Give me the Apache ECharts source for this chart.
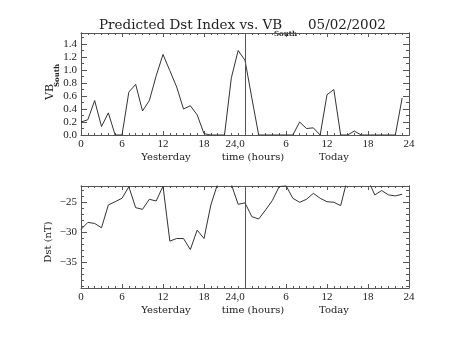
<!DOCTYPE html>
<html>
<head>
<meta charset="utf-8">
<script src="https://cdn.jsdelivr.net/npm/echarts@6/dist/echarts.min.js"></script>
<style>html,body{margin:0;padding:0;background:#fff}#c{width:453px;height:340px}</style>
</head>
<body>
<div id="c"></div>
<script>
// ---- data (hour index 0..47: yesterday 0-23, today 0-23) ----
const hours = Array.from({length: 48}, (_, i) => i);
const vbSouth = [0.20,0.235,0.53,0.13,0.34,0,0,0.66,0.78,0.37,0.53,0.91,1.24,0.99,0.74,0.40,0.45,0.31,0.02,0,0,0,0.88,1.30,
                 1.15,0.57,0,0,0,0,0,0,0.20,0.10,0.11,0,0.62,0.70,0,0,0.06,0,0,0,0,0,0,0.57];
const dst = [-29.55,-28.37,-28.54,-29.27,-25.45,-24.9,-24.33,-22.4,-25.9,-26.18,-24.5,-24.78,-22.3,-31.5,-31.07,-31.07,-32.92,-29.66,-31.07,-25.45,-21.9,-21.0,-22.0,-25.34,
             -25.1,-27.4,-27.8,-26.3,-24.7,-22.36,-22.2,-24.33,-25.0,-24.5,-23.5,-24.33,-24.9,-25.0,-25.56,-21.0,-20.0,-20.5,-21.3,-23.76,-23.03,-23.76,-23.93,-23.65];
const hourTicks = [0,6,12,18,24,30,36,42,48];
const hourTickLabels = ['0','6','12','18','24,0','6','12','18','24'];
const dayLabels = ['Yesterday','time (hours)','Today'];
const vbTicks = [0,0.2,0.4,0.6,0.8,1.0,1.2,1.4];
const vbMinorTicks = [0.1,0.3,0.5,0.7,0.9,1.1,1.3,1.5];
const dstTicks = [-35,-30,-25];
const dstMinorTicks = [-39,-38,-37,-36,-34,-33,-32,-31,-29,-28,-27,-26,-24,-23];
const titleMain = 'Predicted Dst Index vs. VB';
const titleSub = 'South';
const titleDate = '05/02/2002';
const boundary = 24;

const AX = '#555', TXT = '#222', LN = '#333';
const numFont = 'Liberation Serif';

function mkX(g, pos, labels) {
  return {
    type: 'value', gridIndex: g, position: pos, min: 0, max: 48, interval: 6,
    axisLine: {show: true, onZero: false, lineStyle: {color: AX, width: 1}},
    axisTick: {show: true, inside: true, length: 4, lineStyle: {color: AX}},
    minorTick: {show: true, splitNumber: 6, length: 2, lineStyle: {color: AX}},
    splitLine: {show: false}, minorSplitLine: {show: false},
    axisLabel: {
      show: labels, margin: 4, fontFamily: numFont, fontSize: 11, color: TXT,
      formatter: v => {
        const i = hourTicks.indexOf(v);
        if (i < 0) return '';
        return v === boundary ? '{r|' + hourTickLabels[i] + '}' : hourTickLabels[i];
      },
      rich: {r: {fontFamily: numFont, fontSize: 11, color: TXT, padding: [0, 20, 0, 0]}}
    }
  };
}
function mkY(g, pos, ticks, len, labels, min, max, fmt, pad) {
  return {
    type: 'value', gridIndex: g, position: pos, min: min, max: max,
    axisLine: {show: true, onZero: false, lineStyle: {color: AX, width: 1}},
    axisTick: {show: true, inside: true, length: len, customValues: ticks, lineStyle: {color: AX}},
    splitLine: {show: false},
    axisLabel: {show: labels, customValues: ticks, margin: 4, fontFamily: numFont, fontSize: 11,
      color: TXT, formatter: fmt, padding: pad}
  };
}
const fmtVB = v => v.toFixed(1);
const fmtDst = v => (v < 0 ? '\u2212' : '') + Math.abs(v);
const vbMax = 1.57, dstMin = -39.36, dstMax = -22.27;

const vLine = {
  silent: true, symbol: ['none', 'none'], label: {show: false},
  lineStyle: {color: AX, type: 'solid', width: 1},
  data: [{xAxis: boundary}]
};

const txt = (text, x, y, font, extra) => Object.assign({
  type: 'text', x: x, y: y, silent: true,
  style: {text: text, font: font, fill: TXT, align: 'center', verticalAlign: 'middle'}
}, extra || {});
const ltxt = (text, x, y, font) => ({
  type: 'text', x: x, y: y, silent: true,
  style: {text: text, font: font, fill: TXT, align: 'left', verticalAlign: 'middle'}
});

const labelFont = '10px "DejaVu Serif"';
const titleFont = '13.5px "DejaVu Serif"';
const dayX = [166, 253, 334];

const chart = echarts.init(document.getElementById('c'), null, {renderer: 'canvas'});
chart.setOption({
  animation: false,
  backgroundColor: '#fff',
  grid: [
    {left: 81, top: 33, width: 328, height: 102},
    {left: 81, top: 186, width: 328, height: 102}
  ],
  xAxis: [mkX(0, 'bottom', true), mkX(0, 'top', false), mkX(1, 'bottom', true), mkX(1, 'top', false)],
  yAxis: [
    mkY(0, 'left', vbTicks, 6, true, 0, vbMax, fmtVB, [0, 0, 6, 0]),
    mkY(0, 'left', vbMinorTicks, 3, false, 0, vbMax, fmtVB),
    mkY(0, 'right', vbTicks, 6, false, 0, vbMax, fmtVB),
    mkY(0, 'right', vbMinorTicks, 3, false, 0, vbMax, fmtVB),
    mkY(1, 'left', dstTicks, 6, true, dstMin, dstMax, fmtDst),
    mkY(1, 'left', dstMinorTicks, 3, false, dstMin, dstMax, fmtDst),
    mkY(1, 'right', dstTicks, 6, false, dstMin, dstMax, fmtDst),
    mkY(1, 'right', dstMinorTicks, 3, false, dstMin, dstMax, fmtDst)
  ],
  series: [
    {type: 'line', xAxisIndex: 0, yAxisIndex: 0, data: hours.map((h, i) => [h, vbSouth[i]]),
     showSymbol: false, symbol: 'none', clip: true, lineStyle: {color: LN, width: 1}, markLine: vLine},
    {type: 'line', xAxisIndex: 2, yAxisIndex: 4, data: hours.map((h, i) => [h, dst[i]]),
     showSymbol: false, symbol: 'none', clip: true, lineStyle: {color: LN, width: 1}, markLine: vLine}
  ],
  graphic: [
    ltxt(titleMain, 99, 25, titleFont),
    ltxt(titleSub, 274, 34, 'bold 7px "DejaVu Serif"'),
    ltxt(titleDate, 308, 25, titleFont),
    txt('VB', 50, 92, '11px "DejaVu Serif"', {rotation: Math.PI / 2}),
    txt(titleSub, 57, 75.5, 'bold 7px "DejaVu Serif"', {rotation: Math.PI / 2}),
    txt('Dst (nT)', 48, 242, labelFont, {rotation: Math.PI / 2}),
    txt(dayLabels[0], dayX[0], 157.7, labelFont),
    txt(dayLabels[1], dayX[1], 157.7, labelFont),
    txt(dayLabels[2], dayX[2], 157.7, labelFont),
    txt(dayLabels[0], dayX[0], 310.7, labelFont),
    txt(dayLabels[1], dayX[1], 310.7, labelFont),
    txt(dayLabels[2], dayX[2], 310.7, labelFont)
  ]
});
</script>
</body>
</html>
